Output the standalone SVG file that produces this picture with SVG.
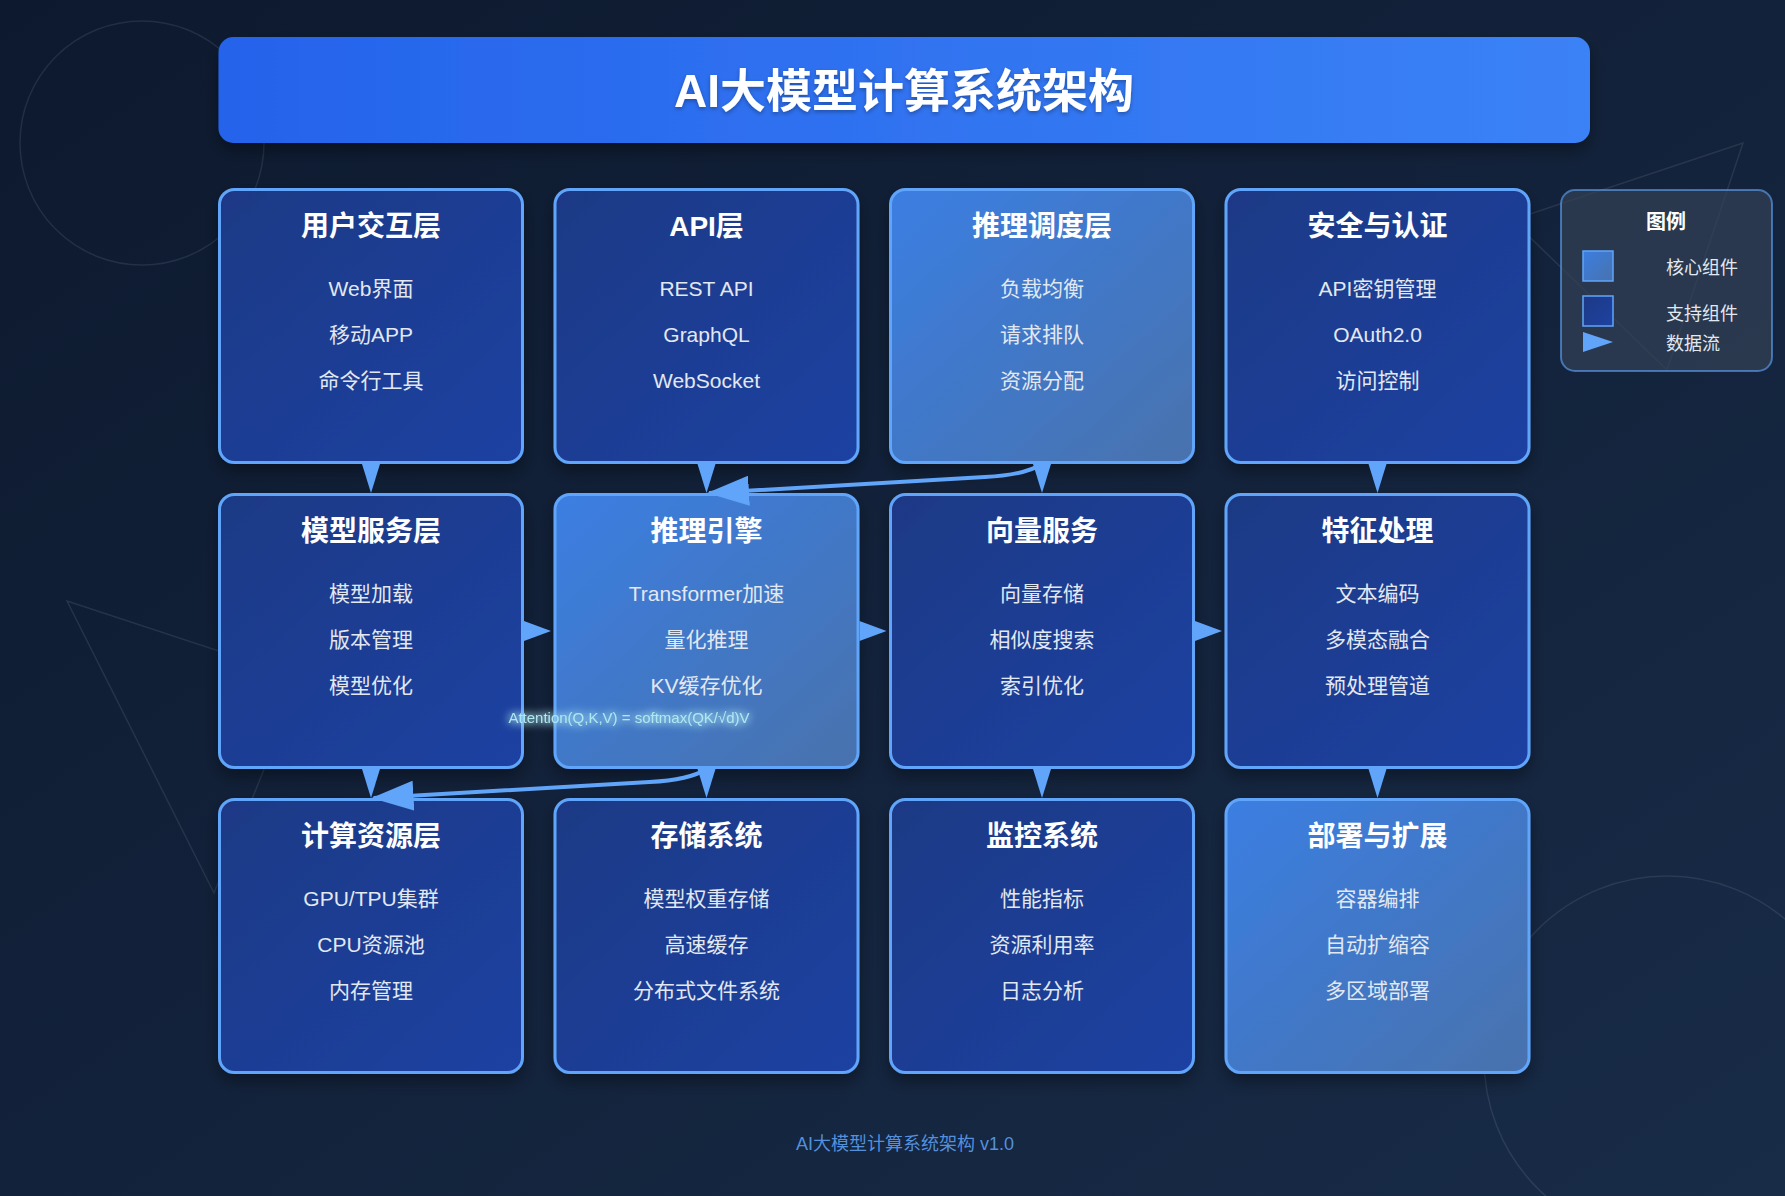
<svg xmlns="http://www.w3.org/2000/svg" width="1785" height="1196" viewBox="0 0 1785 1196">
<defs>
  <linearGradient id="bgGrad" x1="0" y1="0" x2="1" y2="1">
    <stop offset="0" stop-color="#0d192e"/>
    <stop offset="1" stop-color="#182b47"/>
  </linearGradient>
  <linearGradient id="titleGrad" x1="0" y1="0" x2="1" y2="0">
    <stop offset="0" stop-color="#2563eb"/>
    <stop offset="1" stop-color="#3b82f6"/>
  </linearGradient>
  <linearGradient id="coreGrad" x1="0" y1="0" x2="1" y2="1">
    <stop offset="0" stop-color="#3b7ee2"/>
    <stop offset="1" stop-color="#4872ad"/>
  </linearGradient>
  <linearGradient id="supGrad" x1="0" y1="0" x2="1" y2="1">
    <stop offset="0" stop-color="#1d3985"/>
    <stop offset="1" stop-color="#1e42a2"/>
  </linearGradient>
  <filter id="shadow" x="-20%" y="-20%" width="140%" height="150%">
    <feDropShadow dx="0" dy="8" stdDeviation="8" flood-color="#000" flood-opacity="0.35"/>
  </filter>
  <filter id="tshadow" x="-10%" y="-30%" width="120%" height="160%">
    <feDropShadow dx="0" dy="2" stdDeviation="2" flood-color="#000" flood-opacity="0.3"/>
  </filter>
  <filter id="glow" x="-20%" y="-150%" width="140%" height="400%">
    <feGaussianBlur in="SourceGraphic" stdDeviation="5" result="b"/>
    <feMerge><feMergeNode in="b"/><feMergeNode in="b"/><feMergeNode in="SourceGraphic"/></feMerge>
  </filter>
  <marker id="head" markerUnits="userSpaceOnUse" viewBox="0 0 42 30" markerWidth="42" markerHeight="30" refX="40" refY="15" orient="auto">
    <path d="M0,0 L42,15 L0,30 Z" fill="#60a5fa"/>
  </marker>
  <style>
    text { font-family: "Liberation Sans", "Noto Sans CJK SC", sans-serif; }
    .box { stroke: #60a5fa; stroke-width: 3; filter: url(#shadow); }
    .core { fill: url(#coreGrad); }
    .sup { fill: url(#supGrad); }
    .ttl { font-size: 28px; font-weight: bold; fill: #ffffff; text-anchor: middle; }
    .item { font-size: 21px; fill: #e2e8f0; text-anchor: middle; }
    .arr { fill: #60a5fa; }
    .curve { fill: none; stroke: #60a5fa; stroke-width: 4; marker-end: url(#head); }
    .deco { fill: none; stroke: #ffffff; stroke-opacity: 0.09; stroke-width: 1.5; }
    .leg { font-size: 18px; fill: #e2e8f0; }
  </style>
</defs>

<rect width="1785" height="1196" fill="url(#bgGrad)"/>

<g id="decor">
  <circle class="deco" cx="142" cy="143" r="122"/>
  <circle class="deco" cx="1667" cy="1059" r="183"/>
  <polygon class="deco" points="67,601 301,678 214,893"/>
  <polygon class="deco" points="1743,143 1512,220 1667,370"/>
</g>

<g id="header">
  <rect x="218.5" y="37" width="1371.5" height="106" rx="15" fill="url(#titleGrad)" filter="url(#shadow)"/>
  <text x="904" y="107" font-size="46" font-weight="bold" fill="#ffffff" text-anchor="middle" filter="url(#tshadow)">AI大模型计算系统架构</text>
</g>

<g id="node-user">
  <rect class="box sup" x="219.5" y="189.5" width="303" height="273" rx="15"/>
  <text class="ttl" x="371" y="236">用户交互层</text>
  <text class="item" x="371" y="296">Web界面</text>
  <text class="item" x="371" y="342">移动APP</text>
  <text class="item" x="371" y="388">命令行工具</text>
</g>
<g id="node-api">
  <rect class="box sup" x="555" y="189.5" width="303" height="273" rx="15"/>
  <text class="ttl" x="706.5" y="236">API层</text>
  <text class="item" x="706.5" y="296">REST API</text>
  <text class="item" x="706.5" y="342">GraphQL</text>
  <text class="item" x="706.5" y="388">WebSocket</text>
</g>
<g id="node-schedule">
  <rect class="box core" x="890.5" y="189.5" width="303" height="273" rx="15"/>
  <text class="ttl" x="1042" y="236">推理调度层</text>
  <text class="item" x="1042" y="296">负载均衡</text>
  <text class="item" x="1042" y="342">请求排队</text>
  <text class="item" x="1042" y="388">资源分配</text>
</g>
<g id="node-security">
  <rect class="box sup" x="1226" y="189.5" width="303" height="273" rx="15"/>
  <text class="ttl" x="1377.5" y="236">安全与认证</text>
  <text class="item" x="1377.5" y="296">API密钥管理</text>
  <text class="item" x="1377.5" y="342">OAuth2.0</text>
  <text class="item" x="1377.5" y="388">访问控制</text>
</g>

<g id="node-model">
  <rect class="box sup" x="219.5" y="494.5" width="303" height="273" rx="15"/>
  <text class="ttl" x="371" y="541">模型服务层</text>
  <text class="item" x="371" y="601">模型加载</text>
  <text class="item" x="371" y="647">版本管理</text>
  <text class="item" x="371" y="693">模型优化</text>
</g>
<g id="node-engine">
  <rect class="box core" x="555" y="494.5" width="303" height="273" rx="15"/>
  <text class="ttl" x="706.5" y="541">推理引擎</text>
  <text class="item" x="706.5" y="601">Transformer加速</text>
  <text class="item" x="706.5" y="647">量化推理</text>
  <text class="item" x="706.5" y="693">KV缓存优化</text>
  <text x="629" y="723" font-size="15" fill="#aee8f2" text-anchor="middle" filter="url(#glow)">Attention(Q,K,V) = softmax(QK/√d)V</text>
</g>
<g id="node-vector">
  <rect class="box sup" x="890.5" y="494.5" width="303" height="273" rx="15"/>
  <text class="ttl" x="1042" y="541">向量服务</text>
  <text class="item" x="1042" y="601">向量存储</text>
  <text class="item" x="1042" y="647">相似度搜索</text>
  <text class="item" x="1042" y="693">索引优化</text>
</g>
<g id="node-feature">
  <rect class="box sup" x="1226" y="494.5" width="303" height="273" rx="15"/>
  <text class="ttl" x="1377.5" y="541">特征处理</text>
  <text class="item" x="1377.5" y="601">文本编码</text>
  <text class="item" x="1377.5" y="647">多模态融合</text>
  <text class="item" x="1377.5" y="693">预处理管道</text>
</g>

<g id="node-compute">
  <rect class="box sup" x="219.5" y="799.5" width="303" height="273" rx="15"/>
  <text class="ttl" x="371" y="846">计算资源层</text>
  <text class="item" x="371" y="906">GPU/TPU集群</text>
  <text class="item" x="371" y="952">CPU资源池</text>
  <text class="item" x="371" y="998">内存管理</text>
</g>
<g id="node-storage">
  <rect class="box sup" x="555" y="799.5" width="303" height="273" rx="15"/>
  <text class="ttl" x="706.5" y="846">存储系统</text>
  <text class="item" x="706.5" y="906">模型权重存储</text>
  <text class="item" x="706.5" y="952">高速缓存</text>
  <text class="item" x="706.5" y="998">分布式文件系统</text>
</g>
<g id="node-monitor">
  <rect class="box sup" x="890.5" y="799.5" width="303" height="273" rx="15"/>
  <text class="ttl" x="1042" y="846">监控系统</text>
  <text class="item" x="1042" y="906">性能指标</text>
  <text class="item" x="1042" y="952">资源利用率</text>
  <text class="item" x="1042" y="998">日志分析</text>
</g>
<g id="node-deploy">
  <rect class="box core" x="1226" y="799.5" width="303" height="273" rx="15"/>
  <text class="ttl" x="1377.5" y="846">部署与扩展</text>
  <text class="item" x="1377.5" y="906">容器编排</text>
  <text class="item" x="1377.5" y="952">自动扩缩容</text>
  <text class="item" x="1377.5" y="998">多区域部署</text>
</g>

<g id="connectors">
  <polygon class="arr" points="362,464 380,464 371,493"/>
  <polygon class="arr" points="697.5,464 715.5,464 706.5,493"/>
  <polygon class="arr" points="1033,464 1051,464 1042,493"/>
  <polygon class="arr" points="1368.5,464 1386.5,464 1377.5,493"/>
  <polygon class="arr" points="362,769 380,769 371,798"/>
  <polygon class="arr" points="697.5,769 715.5,769 706.5,798"/>
  <polygon class="arr" points="1033,769 1051,769 1042,798"/>
  <polygon class="arr" points="1368.5,769 1386.5,769 1377.5,798"/>
  <polygon class="arr" points="524,621 524,641 551,631"/>
  <polygon class="arr" points="859.5,621 859.5,641 886.5,631"/>
  <polygon class="arr" points="1195,621 1195,641 1222,631"/>
  <path class="curve" d="M1042,464 Q1025,475 985,477 L709,493"/>
  <path class="curve" d="M706.5,769 Q689.5,780 649.5,782 L373.5,798"/>
</g>

<g id="legend">
  <rect x="1561" y="190" width="211" height="181" rx="14" fill="#334155" fill-opacity="0.7" stroke="#60a5fa" stroke-opacity="0.6" stroke-width="2"/>
  <text x="1666" y="229" font-size="20" font-weight="bold" fill="#ffffff" text-anchor="middle">图例</text>
  <rect x="1583" y="251" width="30" height="30" fill="url(#coreGrad)" stroke="#60a5fa" stroke-width="1.5"/>
  <text class="leg" x="1666" y="274">核心组件</text>
  <rect x="1583" y="296" width="30" height="30" fill="url(#supGrad)" stroke="#60a5fa" stroke-width="1.5"/>
  <text class="leg" x="1666" y="320">支持组件</text>
  <polygon points="1583,332 1613,342 1583,352" fill="#60a5fa"/>
  <text class="leg" x="1666" y="350">数据流</text>
</g>

<g id="footer">
  <text x="905" y="1150" font-size="18" fill="#60a5fa" fill-opacity="0.85" text-anchor="middle">AI大模型计算系统架构 v1.0</text>
</g>
</svg>
